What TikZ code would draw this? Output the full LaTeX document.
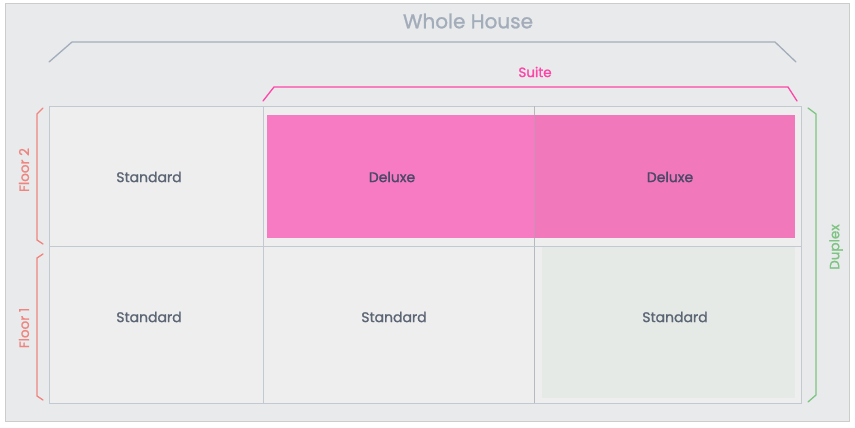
\documentclass[tikz,border=0pt]{standalone}
\usepackage{fontspec}
\setmainfont{Poppins}
\newfontfamily\medfont{Poppins}[FakeBold=1.2]
\usepackage{xcolor}
\definecolor{framebg}{HTML}{E9EAEC}
\definecolor{cellbg}{HTML}{EEEEEF}
\definecolor{gridline}{HTML}{C3C9D1}
\definecolor{housegray}{HTML}{A3ADBA}
\definecolor{suitepink}{HTML}{FF45A8}
\definecolor{deluxepink}{HTML}{F77BC3}
\definecolor{deluxeright}{HTML}{F078BB}
\definecolor{floorred}{HTML}{F0847E}
\definecolor{duplexgreen}{HTML}{7DC482}
\definecolor{greentint}{HTML}{E5EAE7}
\definecolor{labeltext}{HTML}{5B6573}
\definecolor{deluxetext}{HTML}{4B4868}

\tikzset{
  cell/.style={draw=gridline, line width=0.8pt, fill=cellbg, inner sep=0pt},
  celltext/.style={text=labeltext, font=\medfont\fontsize{14}{16}\selectfont},
  sidetext/.style={rotate=90, font=\medfont\fontsize{13.5}{16}\selectfont},
  bracket/.style={line width=1.3pt, line cap=round, line join=round},
}

\begin{document}
\begin{tikzpicture}[x=1pt, y=-1pt]
    \useasboundingbox (0,0) rectangle (855,428);
    \fill[white] (0,0) rectangle (855,428);
    \draw[gray!40, fill=framebg] (5,3) rectangle (849,421);

    % grid of rooms
    \node[cell, minimum width=214pt, minimum height=140pt] (c11) at (156,176) {};
    \node[cell, minimum width=271pt, minimum height=140pt] (c12) at (398.5,176) {};
    \node[cell, minimum width=267pt, minimum height=140pt] (c13) at (667.5,176) {};
    \node[cell, minimum width=214pt, minimum height=157pt] (c21) at (156,324.5) {};
    \node[cell, minimum width=271pt, minimum height=157pt] (c22) at (398.5,324.5) {};
    \node[cell, minimum width=267pt, minimum height=157pt] (c23) at (667.5,324.5) {};

    % highlighted areas
    \fill[greentint] (542,247) rectangle (795,398);
    \fill[deluxepink] (267,115) rectangle (534,238);
    \fill[deluxeright] (534,115) rectangle (795,238);
    \draw[gridline!60!gray, opacity=0.5, line width=0.8pt] (534,106) -- (534,403);
    \draw[gridline, opacity=0.6, line width=0.8pt] (263,246) -- (801,246);

    % room labels
    \node[celltext] (t11) at (149,177) {Standard};
    \node[celltext, text=deluxetext] (t12) at (392,177) {Deluxe};
    \node[celltext, text=deluxetext] (t13) at (670,177) {Deluxe};
    \node[celltext] (t21) at (149,317) {Standard};
    \node[celltext] (t22) at (394,317) {Standard};
    \node[celltext] (t23) at (675,317) {Standard};

    % whole house
    \draw[bracket, housegray] (49,62) -- (72,42) -- (775,42) -- (796,62);
    \node[text=housegray, font=\medfont\fontsize{20}{23}\selectfont] (house) at (468,21) {Whole House};

    % suite
    \draw[bracket, suitepink] (263,101) -- (274,87) -- (788,87) -- (797,101);
    \node[text=suitepink, font=\medfont\fontsize{13.5}{16}\selectfont] (suite) at (535,72) {Suite};

    % floors
    \draw[bracket, floorred] (43,108) -- (37,114) -- (37,240) -- (43,244);
    \node[sidetext, text=floorred] (floor2) at (24,170) {Floor 2};
    \draw[bracket, floorred] (43,254) -- (37,258) -- (37,396) -- (43,400);
    \node[sidetext, text=floorred] (floor1) at (24,328) {Floor 1};

    % duplex
    \draw[bracket, duplexgreen] (808,108) -- (816,114) -- (816,395) -- (808,402);
    \node[sidetext, text=duplexgreen] (duplex) at (836,247) {Duplex};
\end{tikzpicture}
\end{document}
